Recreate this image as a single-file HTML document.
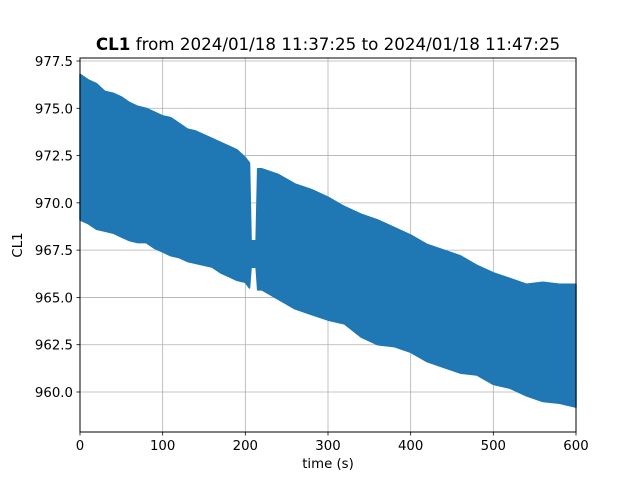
<!DOCTYPE html>
<html><head><meta charset="utf-8"><style>
html,body{margin:0;padding:0;background:#fff;}
svg{display:block;font-family:"DejaVu Sans","Liberation Sans",sans-serif;}
</style></head><body>
<svg id="chart" width="640" height="480" viewBox="0 0 640 480">
<rect width="640" height="480" fill="#fff"/>
<g id="grid"></g>
<g id="series"></g>
<rect x="80" y="58" width="496" height="374" fill="none" stroke="#000" stroke-width="1"/>
<g id="ticks"></g>
<text x="328" y="50" text-anchor="middle" font-size="16.7"><tspan font-weight="bold">CL1</tspan> from 2024/01/18 11:37:25 to 2024/01/18 11:47:25</text>
<text x="328" y="468" text-anchor="middle" font-size="13.3">time (s)</text>
<text x="0" y="0" transform="translate(22,245) rotate(-90)" text-anchor="middle" font-size="13.3">CL1</text>
</svg>
<script>
const times = [0,10,20,30,40,50,60,70,80,90,100,110,120,130,140,150,160,170,180,190,200,205,207,213,215,220,240,260,280,300,320,340,360,380,400,420,440,460,480,500,520,540,560,580,600];
const upper = [976.8,976.5,976.3,975.9,975.8,975.6,975.3,975.1,975.0,974.8,974.6,974.5,974.2,973.9,973.8,973.6,973.4,973.2,973.0,972.8,972.4,972.1,968.0,968.0,971.8,971.8,971.5,971.0,970.7,970.3,969.8,969.4,969.1,968.7,968.3,967.8,967.5,967.2,966.7,966.3,966.0,965.7,965.8,965.7,965.7];
const lower = [969.1,968.9,968.6,968.5,968.4,968.2,968.0,967.9,967.9,967.6,967.4,967.2,967.1,966.9,966.8,966.7,966.6,966.3,966.1,965.9,965.8,965.5,966.6,966.6,965.4,965.4,964.9,964.4,964.1,963.8,963.6,962.9,962.5,962.4,962.1,961.6,961.3,961.0,960.9,960.4,960.2,959.8,959.5,959.4,959.2];
const xTicks = [0,100,200,300,400,500,600];
const yTicks = [960.0,962.5,965.0,967.5,970.0,972.5,975.0,977.5];

const X0=80,X1=576,Y0=58,Y1=432;
const xMin=0,xMax=600;
const yA=960,yApx=392,yB=977.5,yBpx=61;
function sx(t){return X0+(t-xMin)/(xMax-xMin)*(X1-X0);}
function sy(v){return yApx+(v-yA)/(yB-yA)*(yBpx-yApx);}
const NS="http://www.w3.org/2000/svg";
function mk(tag,attrs,parent){const e=document.createElementNS(NS,tag);for(const k in attrs)e.setAttribute(k,attrs[k]);parent.appendChild(e);return e;}
const grid=document.getElementById('grid'),ticks=document.getElementById('ticks'),series=document.getElementById('series');
xTicks.forEach(t=>{
  const x=sx(t);
  const g=mk('line',{x1:x,x2:x,y1:Y0,y2:Y1,stroke:'#b0b0b0','stroke-width':0.8},grid);
  
  
  const tk=mk('line',{x1:x,x2:x,y1:Y1,y2:Y1+3.5,stroke:'#000','stroke-width':0.8},ticks);
  
  
  const lb=mk('text',{x:x,y:Y1+18,'text-anchor':'middle','font-size':13.3},ticks);
  lb.textContent=String(t);
  
  
});
yTicks.forEach(v=>{
  const y=sy(v);
  const g=mk('line',{x1:X0,x2:X1,y1:y,y2:y,stroke:'#b0b0b0','stroke-width':0.8},grid);
  
  
  const tk=mk('line',{x1:X0-3.5,x2:X0,y1:y,y2:y,stroke:'#000','stroke-width':0.8},ticks);
  
  
  const lb=mk('text',{x:X0-7,y:y+5,'text-anchor':'end','font-size':13.3},ticks);
  lb.textContent=v.toFixed(1);
  
  
});
let pts=[];
for(let i=0;i<times.length;i++)pts.push(sx(times[i]).toFixed(1)+','+sy(upper[i]).toFixed(1));
for(let i=times.length-1;i>=0;i--)pts.push(sx(times[i]).toFixed(1)+','+sy(lower[i]).toFixed(1));
const band=mk('polygon',{points:pts.join(' '),fill:'#1f77b4',stroke:'#1f77b4','stroke-width':1.5,'stroke-linejoin':'round'},series);


</script>
</body></html>
